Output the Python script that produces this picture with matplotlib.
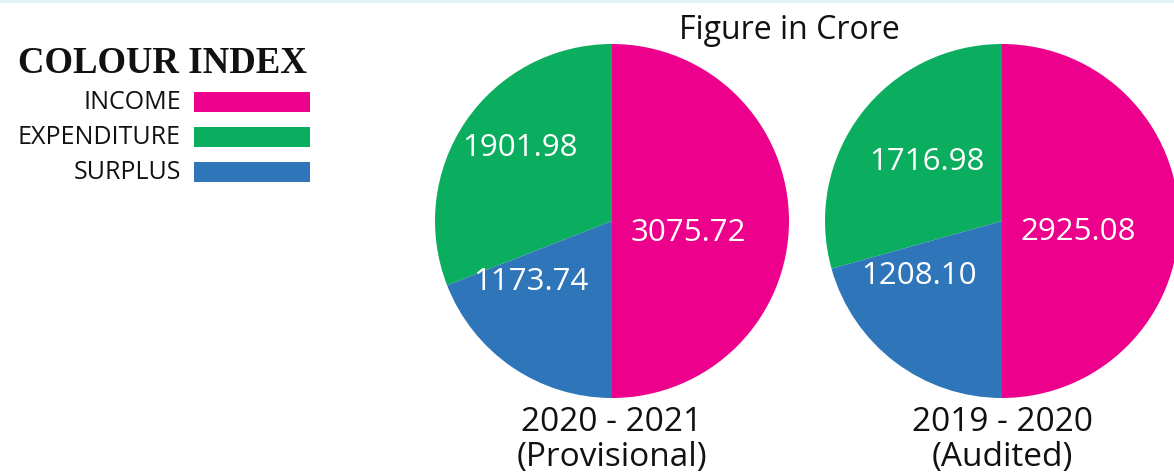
import matplotlib
matplotlib.use("Agg")
import matplotlib.pyplot as plt
from matplotlib.patches import Rectangle

categories = ["INCOME", "EXPENDITURE", "SURPLUS"]
colors = {"INCOME": "#EC008C", "EXPENDITURE": "#0BAE5E", "SURPLUS": "#2E75BA"}

years = ["2020 - 2021\n(Provisional)", "2019 - 2020\n(Audited)"]
income = [3075.72, 2925.08]
expenditure = [1901.98, 1716.98]
surplus = [1173.74, 1208.10]

W, H = 1174, 474
fig = plt.figure(figsize=(W / 100, H / 100), dpi=100)
ax = fig.add_axes([0, 0, 1, 1])

font = "Open Sans"
centers = [(612, 253), (1002, 253)]
R = 177
label_pos = [
    {"EXPENDITURE": (520, 326), "SURPLUS": (531, 192), "INCOME": (688, 241)},
    {"EXPENDITURE": (927, 312), "SURPLUS": (919, 198), "INCOME": (1078, 242)},
]

for i, (cx, cy) in enumerate(centers):
    vals = [expenditure[i], surplus[i], income[i]]
    cols = [colors["EXPENDITURE"], colors["SURPLUS"], colors["INCOME"]]
    ax.pie(vals, colors=cols, startangle=90, counterclock=True,
           center=(cx, cy), radius=R, frame=True,
           wedgeprops=dict(linewidth=0))
    lp = label_pos[i]
    for cat, v in zip(["EXPENDITURE", "SURPLUS", "INCOME"], vals):
        x, y = lp[cat]
        ax.text(x, y, f"{v:.2f}", color="white", fontsize=22.5, family=font,
                ha="center", va="center")
    ax.text(cx, 34, years[i], fontsize=24, family=font, ha="center",
            va="center", linespacing=1.05, color="#111111")

ax.set_xlim(0, W)
ax.set_ylim(0, H)
ax.set_aspect("equal")
ax.axis("off")

ax.text(789, 444, "Figure in Crore", fontsize=23, family=font,
        ha="center", va="center", color="#111111")

# Colour index legend
ax.text(162, 411, "COLOUR INDEX", fontsize=26.5, family="Liberation Serif",
        weight="bold", ha="center", va="center", color="#111111")
for j, cat in enumerate(categories):
    y = 372 - j * 35
    ax.text(181, y, cat, fontsize=18, family=font, ha="right", va="center",
            color="#111111")
    ax.add_patch(Rectangle((194, y - 10), 116, 20, facecolor=colors[cat],
                           edgecolor="none"))

# faint top border
ax.add_patch(Rectangle((0, H - 3), W, 3, facecolor="#E3F1F8", edgecolor="none"))

fig.savefig("out.png", dpi=100)
